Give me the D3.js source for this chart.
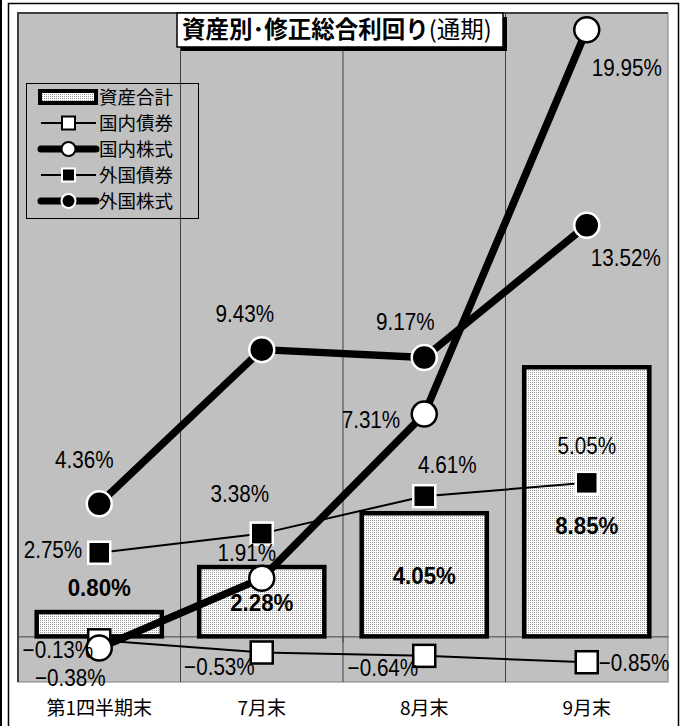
<!DOCTYPE html>
<html>
<head>
<meta charset="utf-8">
<script src="https://cdn.jsdelivr.net/npm/d3@7"></script>
<style>
  body { margin: 0; background: #fff; }
  .num { font-family: "Liberation Sans", Arial, sans-serif; font-size: 23.5px; fill: #000; }
  .num-bold { font-family: "Liberation Sans", Arial, sans-serif; font-size: 24px; font-weight: bold; fill: #000; }
  .jp { font-family: "Noto Sans CJK JP", sans-serif; }
</style>
</head>
<body>
<svg id="chart"></svg>
<script>
const W = 684, H = 726;
const plot = {left: 18, right: 668, top: 13, bottom: 682};

// data
const categories = ["第1四半期末", "7月末", "8月末", "9月末"];
const totalAssets = [0.80, 2.28, 4.05, 8.85];     // 資産合計 (bars)
const domBonds   = [-0.13, -0.53, -0.64, -0.85];  // 国内債券
const domStocks  = [-0.38, 1.91, 7.31, 19.95];    // 国内株式
const forBonds   = [2.75, 3.38, 4.61, 5.05];      // 外国債券
const forStocks  = [4.36, 9.43, 9.17, 13.52];     // 外国株式
const yDomain = [-1.5, 20.5];

// label offsets from each point (dx, dy, anchor)
const barLabelOff   = [[0, -25], [0, 35], [0, 62], [0, 158]];
const domBondsOff   = [[-6, 9, "end"], [-7, 14, "end"], [-6, 12, "end"], [12, 0, "start"]];
const domStocksOff  = [[-29, 30, "middle"], [-15, -26, "middle"], [-24, 5, "end"], [5, 38, "start"]];
const forBondsOff   = [[-17, -3, "end"], [-22, -40, "middle"], [23, -32, "middle"], [0, -37, "middle"]];
const forStocksOff  = [[-15, -44, "middle"], [-17, -36, "middle"], [-19, -36, "middle"], [4, 32, "start"]];

const svg = d3.select("#chart").attr("width", W).attr("height", H);

// dotted fill for the bars
const defs = svg.append("defs");
const pat = defs.append("pattern").attr("id", "dots")
    .attr("patternUnits", "userSpaceOnUse").attr("width", 2).attr("height", 2);
pat.append("rect").attr("width", 2).attr("height", 2).attr("fill", "#fff");
pat.append("rect").attr("width", 1).attr("height", 1).attr("fill", "#9a9a9a");

// outer frame
svg.append("rect").attr("x", 8.5).attr("y", 3.5).attr("width", 670).attr("height", 740)
    .attr("fill", "none").attr("stroke", "#000").attr("stroke-width", 1.5);
svg.append("line").attr("x1", 1).attr("x2", 1).attr("y1", 0).attr("y2", H)
    .attr("stroke", "#000").attr("stroke-width", 2);

const x = d3.scaleBand().domain(categories).range([plot.left, plot.right])
    .paddingInner(0.23).paddingOuter(0.115);
const y = d3.scaleLinear().domain(yDomain).range([plot.bottom, plot.top]);
const cx = d => x(d) + x.bandwidth() / 2;
const step = x.step();

// plot area
svg.append("rect").attr("x", plot.left).attr("y", plot.top)
    .attr("width", plot.right - plot.left).attr("height", plot.bottom - plot.top)
    .attr("fill", "#c0c0c0").attr("stroke", "#808080").attr("stroke-width", 1);
svg.append("path")
    .attr("d", `M${plot.left},${plot.bottom} V${plot.top} H${plot.right}`)
    .attr("fill", "none").attr("stroke", "#404040").attr("stroke-width", 2);

// vertical grid at category boundaries
const bounds = categories.slice(1).map(c => x(c) - step * x.paddingInner() / 2);
svg.selectAll("line.vgrid").data(bounds).enter().append("line")
    .attr("class", "vgrid")
    .attr("x1", d => d).attr("x2", d => d)
    .attr("y1", plot.top).attr("y2", plot.bottom)
    .attr("stroke", "#404040").attr("stroke-width", 1);

// category axis on zero
const xAxis = d3.axisBottom(x).tickSize(0).tickFormat("");
svg.append("g").attr("transform", `translate(0,${y(0)})`).call(xAxis)
    .call(g => g.select(".domain").attr("stroke", "#404040"));
svg.selectAll("line.tick0").data(bounds).enter().append("line")
    .attr("x1", d => d).attr("x2", d => d)
    .attr("y1", y(0)).attr("y2", y(0) + 6)
    .attr("stroke", "#404040");

// category labels
svg.selectAll("text.cat").data(categories).enter().append("text")
    .attr("class", "jp")
    .attr("x", d => cx(d)).attr("y", 715)
    .attr("text-anchor", "middle").attr("font-size", 19)
    .text(d => d);

// bars
svg.selectAll("rect.bar").data(totalAssets).enter().append("rect")
    .attr("x", (d, i) => x(categories[i]))
    .attr("width", x.bandwidth())
    .attr("y", d => y(Math.max(0, d)))
    .attr("height", d => Math.abs(y(d) - y(0)))
    .attr("fill", "url(#dots)").attr("stroke", "#000").attr("stroke-width", 4.5);

const lineGen = d3.line().x((d, i) => cx(categories[i])).y(d => y(d));

function drawSeries(values, opt) {
    svg.append("path").datum(values)
        .attr("d", lineGen)
        .attr("fill", "none").attr("stroke", "#000")
        .attr("stroke-width", opt.width).attr("stroke-linejoin", "round");
    const g = svg.append("g");
    values.forEach((v, i) => {
        const px = cx(categories[i]), py = y(v);
        if (opt.shape === "square") {
            g.append("rect").attr("x", px - 11).attr("y", py - 11)
                .attr("width", 22).attr("height", 22)
                .attr("fill", opt.fill).attr("stroke", opt.edge).attr("stroke-width", 2.5);
        } else {
            g.append("circle").attr("cx", px).attr("cy", py).attr("r", 12.5)
                .attr("fill", opt.fill).attr("stroke", opt.edge).attr("stroke-width", 2.5);
        }
    });
}

drawSeries(domBonds,  {width: 2,   shape: "square", fill: "#fff", edge: "#000"});
drawSeries(domStocks, {width: 7.5, shape: "circle", fill: "#fff", edge: "#000"});
drawSeries(forBonds,  {width: 2,   shape: "square", fill: "#000", edge: "#fff"});
drawSeries(forStocks, {width: 7.5, shape: "circle", fill: "#000", edge: "#fff"});

// labels (condensed horizontally like the original's narrow font)
const fmt = v => (v < 0 ? "\u2212" : "") + Math.abs(v).toFixed(2) + "%";
function drawLabels(values, offs) {
    values.forEach((v, i) => {
        const o = offs[i];
        svg.append("text").attr("class", "num")
            .attr("transform", `translate(${cx(categories[i]) + o[0]},${y(v) + o[1]}) scale(0.88,1)`)
            .attr("dy", "0.36em")
            .attr("text-anchor", o[2])
            .text(fmt(v));
    });
}
drawLabels(domBonds, domBondsOff);
drawLabels(domStocks, domStocksOff);
drawLabels(forBonds, forBondsOff);
drawLabels(forStocks, forStocksOff);

totalAssets.forEach((v, i) => {
    const o = barLabelOff[i];
    svg.append("text").attr("class", "num-bold")
        .attr("transform", `translate(${cx(categories[i]) + o[0]},${y(v) + o[1]}) scale(0.93,1)`)
        .attr("dy", "0.36em").attr("text-anchor", "middle")
        .text(fmt(v));
});

// title
svg.append("rect").attr("x", 181).attr("y", 17).attr("width", 326).attr("height", 34).attr("fill", "#000");
svg.append("rect").attr("x", 177).attr("y", 13).attr("width", 326).attr("height", 34)
    .attr("fill", "#fff").attr("stroke", "#000").attr("stroke-width", 1.5);
const title = svg.append("text").attr("class", "jp").attr("x", 182).attr("y", 38).attr("font-size", 23.5);
title.append("tspan").attr("font-weight", "bold").text("資産別･修正総合利回り");
title.append("tspan").attr("font-weight", "normal").text("(通期)");

// legend
const legendItems = ["資産合計", "国内債券", "国内株式", "外国債券", "外国株式"];
const legendY = [97, 123, 149, 175, 201];
svg.append("rect").attr("x", 26.5).attr("y", 83.5).attr("width", 172).attr("height", 135)
    .attr("fill", "none").attr("stroke", "#000").attr("stroke-width", 1);
const lg = svg.append("g");
legendItems.forEach((name, i) => {
    const ly = legendY[i];
    if (i === 0) {
        lg.append("rect").attr("x", 40).attr("y", ly - 6).attr("width", 56).attr("height", 12)
            .attr("fill", "url(#dots)").attr("stroke", "#000").attr("stroke-width", 4);
    } else {
        const thick = (i === 2 || i === 4);
        lg.append("line").attr("x1", 41).attr("x2", 96).attr("y1", ly).attr("y2", ly)
            .attr("stroke", "#000").attr("stroke-width", thick ? 7 : 2)
            .attr("stroke-linecap", thick ? "round" : "butt");
        const fill = i <= 2 ? "#fff" : "#000";
        const edge = i <= 2 ? "#000" : "#fff";
        if (i === 1 || i === 3) {
            lg.append("rect").attr("x", 62).attr("y", ly - 6.5).attr("width", 13).attr("height", 13)
                .attr("fill", fill).attr("stroke", edge).attr("stroke-width", 2);
        } else {
            lg.append("circle").attr("cx", 68.5).attr("cy", ly).attr("r", 7)
                .attr("fill", fill).attr("stroke", edge).attr("stroke-width", 2);
        }
    }
    lg.append("text").attr("class", "jp").attr("x", 99).attr("y", ly).attr("dy", "0.36em")
        .attr("font-size", 18.5).text(name);
});
</script>
</body>
</html>
